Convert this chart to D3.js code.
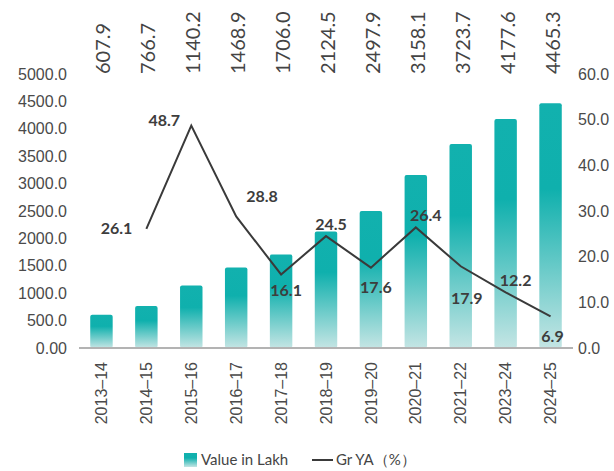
<!DOCTYPE html>
<html>
<head>
<meta charset="utf-8">
<script src="https://cdn.jsdelivr.net/npm/d3@7"></script>
<style>
  body { margin: 0; background: #fff; }
  svg { display: block; font-family: Lato, "Open Sans", sans-serif; }
  .axis text { fill: #4a4a4a; font-size: 16px; }
  .axis .domain, .axis line { display: none; }
</style>
</head>
<body>
<svg class="js-chart"></svg>
<script>
// chart data
const years = ['2013–14', '2014–15', '2015–16', '2016–17', '2017–18', '2018–19',
               '2019–20', '2020–21', '2021–22', '2023–24', '2024–25'];
const values = [607.9, 766.7, 1140.2, 1468.9, 1706.0, 2124.5, 2497.9, 3158.1, 3723.7, 4177.6, 4465.3];
const growthYears = years.slice(1);
const growth = [26.1, 48.7, 28.8, 16.1, 24.5, 17.6, 26.4, 17.9, 12.2, 6.9];
const leftTicks = [0, 500, 1000, 1500, 2000, 2500, 3000, 3500, 4000, 4500, 5000];
const leftTickLabels = ['0.00', '500.0', '1000.0', '1500.0', '2000.0', '2500.0',
                        '3000.0', '3500.0', '4000.0', '4500.0', '5000.0'];
const rightTicks = [0, 10, 20, 30, 40, 50, 60];
const rightTickLabels = ['0.0', '10.0', '20.0', '30.0', '40.0', '50.0', '60.0'];

// where each growth label sits relative to its point: [dx, dy, anchor]
const labelPlacement = [
    [-14, 5, 'end'], [-27, 0, 'middle'], [10, -14, 'start'], [5, 22, 'middle'],
    [5, -6, 'middle'], [5, 25, 'middle'], [10, -6, 'middle'], [6, 38, 'middle'],
    [10, -6, 'middle'], [2, 26, 'middle']
];

const svgWidth = 614;
const svgHeight = 471;
const margin = {top: 74, right: 41, bottom: 123, left: 79};
const width = svgWidth - margin.left - margin.right;
const height = svgHeight - margin.top - margin.bottom;

const svg = d3.select('.js-chart')
    .attr('width', svgWidth)
    .attr('height', svgHeight);

const defs = svg.append('defs');
const grad = defs.append('linearGradient')
    .attr('id', 'barGrad')
    .attr('x1', 0).attr('y1', 0).attr('x2', 0).attr('y2', 1);
grad.append('stop').attr('offset', '0%').attr('stop-color', '#12b1ae');
grad.append('stop').attr('offset', '35%').attr('stop-color', '#0fb0ad');
grad.append('stop').attr('offset', '100%').attr('stop-color', '#c4e5e4');

const g = svg.append('g')
    .attr('transform', `translate(${margin.left},${margin.top})`);

const x = d3.scaleBand()
    .domain(years)
    .range([0, width])
    .paddingInner(0.5)
    .paddingOuter(0.25);

const yLeft = d3.scaleLinear().domain([0, 5000]).range([height, 0]);
const yRight = d3.scaleLinear().domain([0, 60]).range([height, 0]);

// bars
g.selectAll('.bar')
    .data(values)
    .enter().append('rect')
    .attr('class', 'bar')
    .attr('x', (d, i) => x(years[i]))
    .attr('y', d => yLeft(d))
    .attr('width', x.bandwidth())
    .attr('height', d => height - yLeft(d))
    .attr('rx', 2)
    .attr('fill', 'url(#barGrad)');

// baseline
g.append('line')
    .attr('x1', 0).attr('x2', width)
    .attr('y1', height).attr('y2', height)
    .attr('stroke', '#b3b3b3')
    .attr('stroke-width', 2);

// axes
g.append('g')
    .attr('class', 'axis')
    .call(d3.axisLeft(yLeft).tickValues(leftTicks).tickSize(0).tickPadding(12)
        .tickFormat((d, i) => leftTickLabels[i]));

g.append('g')
    .attr('class', 'axis')
    .attr('transform', `translate(${width},0)`)
    .call(d3.axisRight(yRight).tickValues(rightTicks).tickSize(0).tickPadding(5)
        .tickFormat((d, i) => rightTickLabels[i]));

g.append('g')
    .attr('class', 'axis')
    .attr('transform', `translate(0,${height})`)
    .call(d3.axisBottom(x).tickSize(0))
    .selectAll('text')
    .attr('transform', 'rotate(-90)')
    .attr('x', -14)
    .attr('y', 0)
    .attr('dy', '0.35em')
    .style('text-anchor', 'end')
    .style('font-size', '16px');

// value labels on top, rotated
g.selectAll('.val')
    .data(values)
    .enter().append('text')
    .attr('class', 'val')
    .attr('transform', (d, i) => `translate(${x(years[i]) + x.bandwidth() / 2 + 2},0) rotate(-90)`)
    .attr('dy', '0.35em')
    .style('text-anchor', 'start')
    .style('font-size', '20px')
    .style('fill', '#444')
    .text(d => d.toFixed(1));

// growth line
const cx = (d, i) => x(growthYears[i]) + x.bandwidth() / 2;
const line = d3.line()
    .x(cx)
    .y(d => yRight(d));

g.append('path')
    .attr('d', line(growth))
    .attr('fill', 'none')
    .attr('stroke', '#3a3a3a')
    .attr('stroke-width', 2);

g.selectAll('.gr')
    .data(growth)
    .enter().append('text')
    .attr('class', 'gr')
    .attr('x', (d, i) => cx(d, i) + labelPlacement[i][0])
    .attr('y', (d, i) => yRight(d) + labelPlacement[i][1])
    .style('text-anchor', (d, i) => labelPlacement[i][2])
    .style('font-size', '16px')
    .style('font-weight', 700)
    .style('fill', '#3d3d3d')
    .text(d => d.toFixed(1));

// legend
const legend = svg.append('g').attr('transform', 'translate(184,453)');
legend.append('rect')
    .attr('width', 13).attr('height', 14)
    .attr('fill', 'url(#barGrad)');
legend.append('text')
    .attr('x', 17).attr('y', 12)
    .style('font-size', '15px')
    .style('fill', '#444')
    .text('Value in Lakh');
legend.append('line')
    .attr('x1', 128).attr('x2', 149)
    .attr('y1', 7).attr('y2', 7)
    .attr('stroke', '#3a3a3a')
    .attr('stroke-width', 2);
legend.append('text')
    .attr('x', 152).attr('y', 12)
    .style('font-size', '15px')
    .style('fill', '#444')
    .text('Gr YA（%）');
</script>
</body>
</html>
